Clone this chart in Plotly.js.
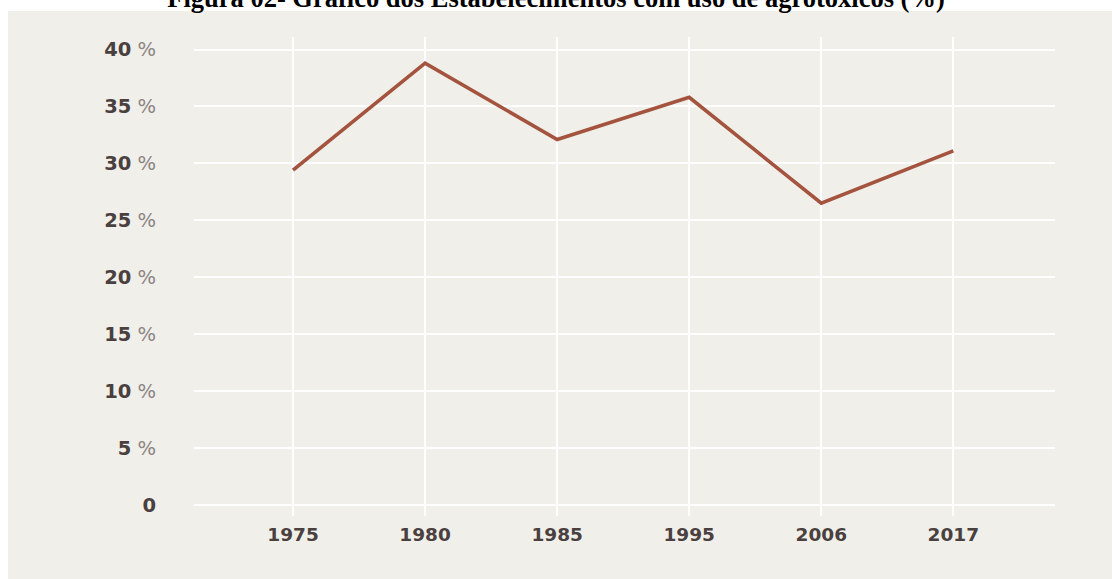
<!DOCTYPE html>
<html>
<head>
<meta charset="utf-8">
<script src="https://cdn.plot.ly/plotly-3.0.1.min.js"></script>
<style>
  html, body { margin: 0; padding: 0; background: #ffffff; }
  #chart { width: 1112px; height: 579px; }
</style>
</head>
<body>
<div id="chart"></div>
<script>
// ---- data ----
const years = ['1975', '1980', '1985', '1995', '2006', '2017'];
const percentUsingPesticides = [29.4, 38.8, 32.1, 35.8, 26.5, 31.1];
const yTickValues = [0, 5, 10, 15, 20, 25, 30, 35, 40];
const yTickNumbers = ['0', '5', '10', '15', '20', '25', '30', '35', '40'];
const chartTitle = 'Figura 02- Gráfico dos Estabelecimentos com uso de agrotóxicos (%)';

// ---- styles ----
const panelColor = '#f0efe9';
const lineColor = '#a4533e';
const labelColor = '#4a4040';
const pctColor = '#8c8484';

const yTickText = yTickValues.map((v, i) =>
  v === 0 ? '<b>' + yTickNumbers[i] + '</b>'
          : '<b>' + yTickNumbers[i] + '</b> <span style="color:' + pctColor + '">%</span>');
const xTickText = years.map(y => '<b>' + y + '</b>');

const W = 1112, H = 579;
const L = 194, R = 57, T = 37, B = 63;
const pw = W - L - R, ph = H - T - B;
const px2x = x => (x - L) / pw;
const py2y = y => (H - B - y) / ph;

const trace = {
  type: 'scatter',
  mode: 'lines',
  x: years,
  y: percentUsingPesticides,
  line: { color: lineColor, width: 3.6 },
  hoverinfo: 'x+y'
};

const layout = {
  width: W,
  height: H,
  margin: { l: L, r: R, t: T, b: B, pad: 0 },
  paper_bgcolor: '#ffffff',
  plot_bgcolor: panelColor,
  showlegend: false,
  title: {
    text: '<b>' + chartTitle + '</b>',
    font: { family: 'Liberation Serif, Times New Roman, serif', size: 26.5, color: '#000000' },
    x: 0.5,
    xanchor: 'center',
    xref: 'container',
    yref: 'container',
    y: 1 - 7 / H,
    yanchor: 'bottom'
  },
  shapes: [{
    type: 'rect',
    xref: 'paper', yref: 'paper',
    x0: px2x(8), x1: px2x(1112),
    y0: py2y(579), y1: py2y(11),
    fillcolor: panelColor,
    line: { width: 0 },
    layer: 'below'
  }],
  xaxis: {
    type: 'category',
    range: [-0.75, 5.77],
    tickvals: years,
    ticktext: xTickText,
    showgrid: true,
    gridcolor: '#ffffff',
    gridwidth: 1.6,
    zeroline: false,
    showline: false,
    ticks: '',
    ticklabelstandoff: 5,
    tickfont: { family: 'DejaVu Sans, sans-serif', size: 18.5, color: labelColor },
    fixedrange: true
  },
  yaxis: {
    range: [-0.97, 41.1],
    tickvals: yTickValues,
    ticktext: yTickText,
    showgrid: true,
    gridcolor: '#ffffff',
    gridwidth: 2,
    zeroline: false,
    showline: false,
    ticks: '',
    ticklabelstandoff: 37,
    tickfont: { family: 'DejaVu Sans, sans-serif', size: 19.5, color: labelColor },
    fixedrange: true
  }
};

Plotly.newPlot('chart', [trace], layout, { displayModeBar: false, staticPlot: false });
</script>
</body>
</html>
